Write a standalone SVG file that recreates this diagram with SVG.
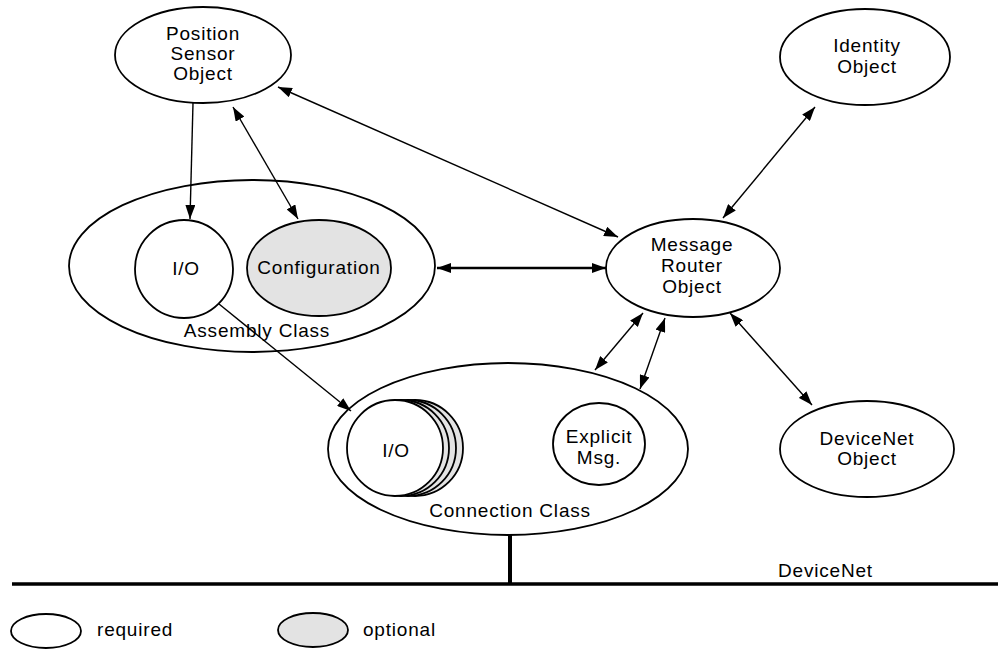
<svg xmlns="http://www.w3.org/2000/svg" width="998" height="650" viewBox="0 0 998 650">
  <defs>
    <marker id="head" viewBox="0 0 14 10" refX="14" refY="5" markerWidth="14" markerHeight="10" markerUnits="userSpaceOnUse" orient="auto-start-reverse">
      <path d="M0,0 L14,5 L0,10 z" fill="#000"/>
    </marker>
    <style>
      .obj { fill: #fff; stroke: #000; stroke-width: 1.8; }
      .opt { fill: #e3e3e3; stroke: #000; stroke-width: 1.8; }
      .lbl { font-family: "Liberation Sans", Arial, sans-serif; font-size: 19px; letter-spacing: 0.8px; fill: #000; text-anchor: middle; }
      .lft { text-anchor: start; }
      .ln { fill: none; stroke: #000; stroke-width: 1.4; }
      .bold { stroke-width: 2.6; }
      .one { marker-end: url(#head); }
      .two { marker-start: url(#head); marker-end: url(#head); }
    </style>
  </defs>
  <rect width="998" height="650" fill="#fff"/>

  <!-- network bus and drop line -->
  <g id="bus">
    <line x1="12" y1="584" x2="998" y2="584" stroke="#000" stroke-width="3.5"/>
    <line x1="510" y1="534" x2="510" y2="584" stroke="#000" stroke-width="4"/>
    <text class="lbl lft" x="778" y="577">DeviceNet</text>
  </g>

  <g id="position-sensor">
    <ellipse class="obj" cx="203" cy="55" rx="88" ry="48"/>
    <text class="lbl" x="203" y="40">Position</text>
    <text class="lbl" x="203" y="60">Sensor</text>
    <text class="lbl" x="203" y="80">Object</text>
  </g>

  <g id="identity">
    <ellipse class="obj" cx="865" cy="57" rx="85" ry="48"/>
    <text class="lbl" x="867" y="52">Identity</text>
    <text class="lbl" x="867" y="73">Object</text>
  </g>

  <g id="assembly-class">
    <ellipse class="obj" cx="252" cy="266" rx="183" ry="86"/>
    <text class="lbl" x="257" y="337">Assembly Class</text>
  </g>

  <g id="assembly-io">
    <circle class="obj" cx="184" cy="269" r="49"/>
    <text class="lbl" x="186" y="275">I/O</text>
  </g>

  <g id="configuration">
    <ellipse class="opt" cx="319" cy="268" rx="72" ry="48"/>
    <text class="lbl" x="319" y="274">Configuration</text>
  </g>

  <g id="message-router">
    <ellipse class="obj" cx="693" cy="268" rx="87" ry="49"/>
    <text class="lbl" x="692" y="251">Message</text>
    <text class="lbl" x="692" y="272">Router</text>
    <text class="lbl" x="692" y="293">Object</text>
  </g>

  <g id="devicenet-object">
    <ellipse class="obj" cx="867" cy="449" rx="87" ry="48"/>
    <text class="lbl" x="867" y="445">DeviceNet</text>
    <text class="lbl" x="867" y="465">Object</text>
  </g>

  <g id="connection-class">
    <ellipse class="obj" cx="508" cy="449" rx="180" ry="86"/>
    <text class="lbl" x="510" y="517">Connection Class</text>
  </g>

  <g id="connection-io">
    <circle class="opt" cx="415" cy="448" r="48"/>
    <circle class="opt" cx="408" cy="448" r="48"/>
    <circle class="opt" cx="401" cy="448" r="48"/>
    <circle class="obj" cx="395" cy="448" r="48"/>
    <text class="lbl" x="396" y="457">I/O</text>
  </g>

  <g id="explicit-msg">
    <ellipse class="obj" cx="599" cy="444" rx="46" ry="41"/>
    <text class="lbl" x="599" y="443">Explicit</text>
    <text class="lbl" x="599" y="464">Msg.</text>
  </g>

  <g id="connectors">
    <line class="ln one" x1="193" y1="103" x2="190" y2="219"/>
    <line class="ln two" x1="233" y1="107" x2="298" y2="219"/>
    <line class="ln two" x1="278" y1="87" x2="618" y2="237"/>
    <line class="ln two" x1="815" y1="107" x2="723" y2="218"/>
    <line class="ln bold two" x1="437" y1="268" x2="606" y2="268"/>
    <line class="ln two" x1="730" y1="313" x2="812" y2="405"/>
    <line class="ln two" x1="595" y1="370" x2="643" y2="313"/>
    <line class="ln two" x1="640" y1="389" x2="665" y2="318"/>
    <line class="ln one" x1="219" y1="304" x2="351" y2="411"/>
  </g>

  <g id="legend">
    <ellipse class="obj" cx="46" cy="631" rx="35" ry="17"/>
    <text class="lbl lft" x="97" y="636">required</text>
    <ellipse class="opt" cx="313" cy="630" rx="35" ry="17"/>
    <text class="lbl lft" x="363" y="636">optional</text>
  </g>
</svg>
